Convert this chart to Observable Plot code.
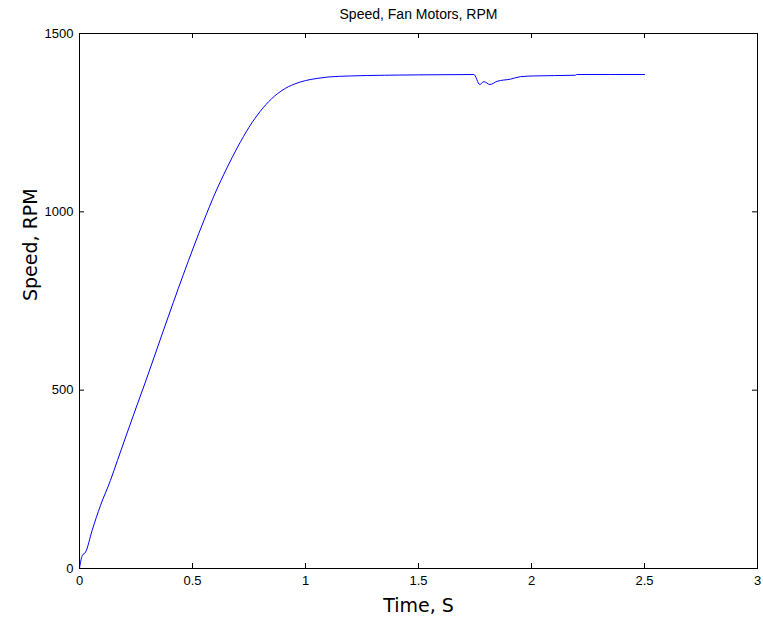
<!DOCTYPE html>
<html>
<head>
<meta charset="utf-8">
<script src="https://cdn.jsdelivr.net/npm/d3@7"></script>
<script src="https://cdn.jsdelivr.net/npm/@observablehq/plot@0.6"></script>
<style>
  html, body { margin: 0; padding: 0; background: #fff; }
</style>
</head>
<body>
<div id="chart"></div>
<script>
// Time (s)
const time = [0, 0.012, 0.027, 0.056, 0.093, 0.137, 0.168, 0.25, 0.29, 0.37, 0.46, 0.55, 0.60, 0.65, 0.70, 0.75, 0.80, 0.85, 0.90, 0.95, 1.00, 1.05, 1.10, 1.20, 1.35, 1.5, 1.745, 1.771, 1.789, 1.816, 1.848, 1.907, 1.951, 2.01, 2.195, 2.2, 2.5];
// Speed (RPM)
const speed = [0, 36, 46, 107, 177, 247, 303, 450, 520, 665, 825, 975, 1052, 1120, 1182, 1237, 1282, 1317, 1342, 1358, 1368, 1374, 1378, 1381, 1383, 1384, 1385, 1357, 1365, 1357, 1366, 1372, 1379, 1381, 1383, 1385, 1385];

const xTicks = [0, 0.5, 1, 1.5, 2, 2.5, 3];
const yTicks = [0, 500, 1000, 1500];
const titleText = "Speed, Fan Motors, RPM";
const xLabel = "Time, S";
const yLabel = "Speed, RPM";

const xDomain = [0, 3];
const yDomain = [0, 1500];

const data = time.map((t, i) => ({t, v: speed[i]}));
const fmt = d => String(d);
const TICK = 5;

const chart = Plot.plot({
  width: 763,
  height: 621,
  marginLeft: 79,
  marginRight: 6,
  marginTop: 33,
  marginBottom: 53,
  style: {fontFamily: "'Liberation Sans', Arial, sans-serif", fontSize: "13px", background: "white", color: "black"},
  x: {domain: xDomain, label: null},
  y: {domain: yDomain, label: null},
  marks: [
    Plot.line(data, {x: "t", y: "v", stroke: "#0000ff", strokeWidth: 1, curve: "monotone-x"}),
    Plot.axisX(xTicks, {anchor: "bottom", tickSize: 0, tickPadding: 7, tickFormat: fmt, fontSize: 13, label: null}),
    Plot.axisY(yTicks, {anchor: "left", tickSize: 0, tickPadding: 6, tickFormat: fmt, fontSize: 13, label: null}),
    // inward ticks on all four sides
    Plot.ruleX(xTicks, {x: d => d, y1: yDomain[0], y2: yDomain[0], insetTop: -TICK, stroke: "black"}),
    Plot.ruleX(xTicks, {x: d => d, y1: yDomain[1], y2: yDomain[1], insetBottom: -TICK, stroke: "black"}),
    Plot.ruleY(yTicks, {y: d => d, x1: xDomain[0], x2: xDomain[0], insetRight: -TICK, stroke: "black"}),
    Plot.ruleY(yTicks, {y: d => d, x1: xDomain[1], x2: xDomain[1], insetLeft: -TICK, stroke: "black"}),
    Plot.frame({stroke: "black", strokeWidth: 1}),
    Plot.text([titleText], {frameAnchor: "top", dy: -19, lineAnchor: "middle", fontSize: 14, fill: "black"}),
    Plot.text([xLabel], {frameAnchor: "bottom", dy: 37, lineAnchor: "middle", fontSize: 19, fontFamily: "'DejaVu Sans', sans-serif", fill: "black"}),
    Plot.text([yLabel], {frameAnchor: "left", dx: -49, lineAnchor: "middle", rotate: -90, fontSize: 19, fontFamily: "'DejaVu Sans', sans-serif", fill: "black"})
  ]
});
document.getElementById("chart").appendChild(chart);
</script>
</body>
</html>
